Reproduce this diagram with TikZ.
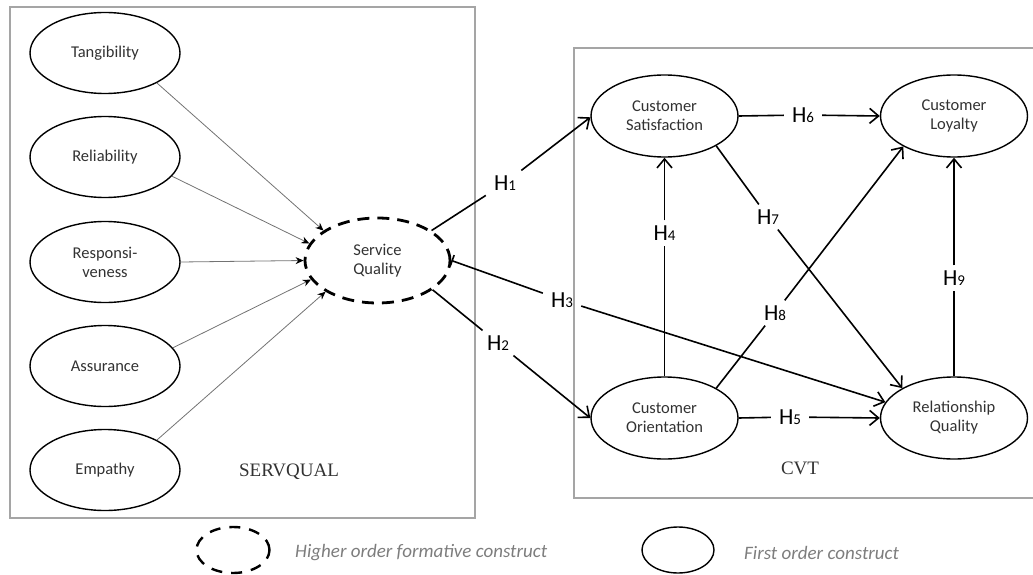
\documentclass[tikz,border=0pt]{standalone}
\usepackage{fontspec}
\setmainfont{Carlito}
\newfontfamily\timesfont{Liberation Serif}
\usepackage{tikz}
\usetikzlibrary{shapes.geometric, arrows.meta}
\definecolor{frame}{RGB}{165, 165, 165}
\definecolor{inktext}{RGB}{50, 50, 50}
\definecolor{legendgray}{RGB}{125, 125, 125}

\newcommand{\hyp}[1]{H{\fontsize{15}{15}\selectfont #1}}

\begin{document}
\begin{tikzpicture}[x=1pt, y=-1pt,
  construct/.style={ellipse, draw, line width=1.4pt, inner sep=0pt, align=center,
    text=inktext, font=\fontsize{16.5}{19}\selectfont},
  formative/.style={construct, line width=2.8pt, dash pattern=on 12pt off 8pt},
  hlabel/.style={inner xsep=8pt, inner ysep=5pt, font=\fontsize{23}{23}\selectfont},
  feed/.style={draw=black!55, line width=0.8pt, -{Stealth[length=8pt, width=7pt, black]}},
  link/.style={line width=1.6pt},
  tip/.style={link, -{Straight Barb[length=9pt, width=15pt]}},
  legendtext/.style={anchor=west, inner sep=0pt, text=legendgray, font=\fontsize{19}{19}\selectfont\itshape}]

  \useasboundingbox (0,0) rectangle (1033,575);

  % frames
  \draw[frame, line width=1.5pt] (10,7) rectangle (475,518);
  \draw[frame, line width=1.5pt] (1040,48) -- (574,48) -- (574,498) -- (1040,498);
  \node[font=\timesfont\fontsize{19}{19}\selectfont, text=inktext] (servqual) at (289,472) {SERVQUAL};
  \node[font=\timesfont\fontsize{19}{19}\selectfont, text=inktext] (cvt) at (800,468) {CVT};

  % SERVQUAL dimensions
  \node[formative, minimum width=145pt, minimum height=85pt] (sq) at (377.5,260.5) {Service\\Quality};

  \foreach \name/\y/\txt/\out/\in in {tang/53/Tangibility/-30/151, rel/157/Reliability/-16/166,
      resp/262/{Responsi-\\veness}/0/180, assur/366/Assurance/15/196, emp/470/Empathy/30/211} {
    \node[construct, minimum width=150pt, minimum height=81pt] (\name) at (105,\y) {\txt};
    \draw[feed] (\name.\out) -- (sq.\in);
  }

  % CVT constructs
  \node[construct, minimum width=147pt, minimum height=82pt] (cs) at (664.5,116) {Customer\\Satisfaction};
  \node[construct, minimum width=147pt, minimum height=82pt] (cl) at (954,116) {Customer\\Loyalty};
  \node[construct, minimum width=147pt, minimum height=82pt] (co) at (664.5,418) {Customer\\Orientation};
  \node[construct, minimum width=147pt, minimum height=82pt] (rq) at (954,418) {Relationship\\Quality};

  % hypotheses
  \node[hlabel] (h1) at (505,183) {\hyp{1}};
  \node[hlabel] (h2) at (498,343) {\hyp{2}};
  \node[hlabel] (h3) at (562,300) {\hyp{3}};
  \node[hlabel] (h4) at (664.5,233) {\hyp{4}};
  \node[hlabel] (h5) at (790,417) {\hyp{5}};
  \node[hlabel] (h6) at (803,115) {\hyp{6}};
  \node[hlabel] (h7) at (768,217) {\hyp{7}};
  \node[hlabel] (h8) at (775,313) {\hyp{8}};
  \node[hlabel] (h9) at (954,278) {\hyp{9}};

  \draw[link] (sq.29) -- (h1);  \draw[tip] (h1) -- (cs.181);
  \draw[link] (sq.-28) -- (h2); \draw[tip] (h2) -- (co.180);
  \draw[link, {Bar[width=12pt]}-] (sq.0) -- (h3); \draw[tip] (h3) -- (rq.167);
  \draw[link] (co.90) -- (h4);  \draw[tip] (h4) -- (cs.270);
  \draw[link] (co.0) -- (h5);   \draw[tip] (h5) -- (rq.180);
  \draw[link] (cs.0) -- (h6);   \draw[tip] (h6) -- (cl.180);
  \draw[link] (cs.-30) -- (h7); \draw[tip] (h7) -- (rq.150);
  \draw[link] (co.30) -- (h8);  \draw[tip] (h8) -- (cl.211);
  \draw[link] (rq.90) -- (h9);  \draw[tip] (h9) -- (cl.270);

  % legend
  \node[formative, line width=2.4pt, dash pattern=on 11pt off 9pt, minimum width=73pt, minimum height=46pt] (keyhigh) at (233,550) {};
  \node[legendtext] (keyhightxt) at (295,553) {Higher order formative construct};
  \node[construct, minimum width=72pt, minimum height=46pt] (keyfirst) at (678,550) {};
  \node[legendtext] (keyfirsttxt) at (744,553) {First order construct};

\end{tikzpicture}
\end{document}
